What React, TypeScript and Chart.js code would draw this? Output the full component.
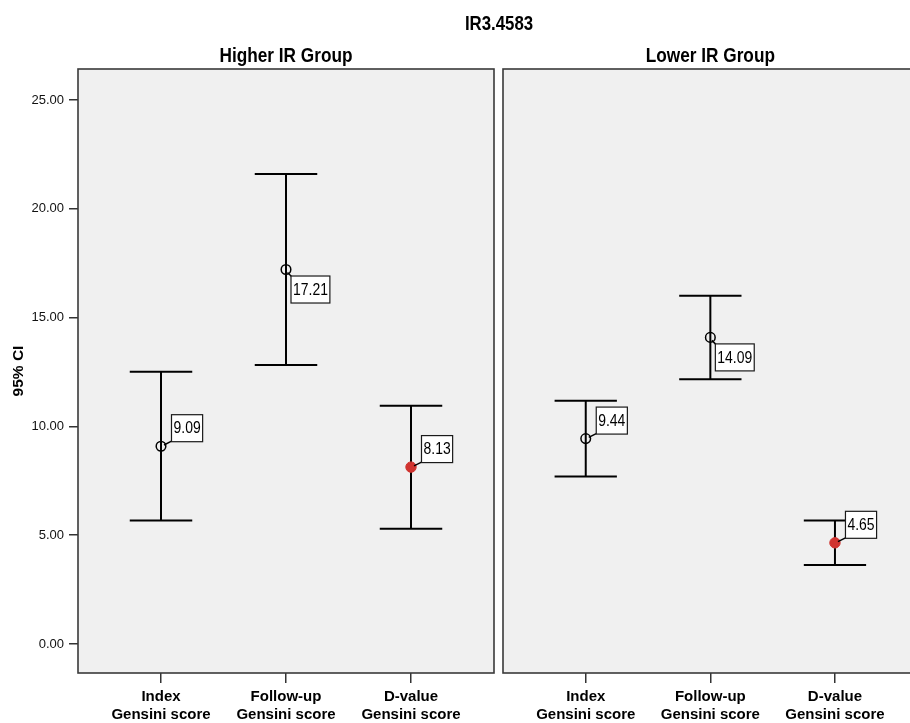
import React, { useEffect, useRef } from 'react';
import { Chart, registerables } from 'chart.js';

Chart.register(...registerables);

// ---- data ----
const mainTitle = 'IR3.4583';
const panelTitles = ['Higher IR Group', 'Lower IR Group'];
const yTitle = '95% CI';
const categories = ['Index', 'Follow-up', 'D-value'];
const measureName = 'Gensini score';
const yTicks = [0, 5, 10, 15, 20, 25];

const higherMean = [9.09, 17.21, 8.13];
const higherLow = [5.67, 12.82, 5.3];
const higherHigh = [12.51, 21.6, 10.95];

const lowerMean = [9.44, 14.09, 4.65];
const lowerLow = [7.7, 12.17, 3.63];
const lowerHigh = [11.18, 16.01, 5.67];

const Y_MIN = -1.333;
const Y_MAX = 26.425;
const X_MIN = -0.664;
const X_MAX = 2.664;

function hasFont(name: string): boolean {
  const c = document.createElement('canvas').getContext('2d');
  if (!c) return false;
  const s = 'abcdefghij ABCDEFG 0123456789 Gensini';
  c.font = '40px monospace';
  const a = c.measureText(s).width;
  c.font = `40px "${name}", monospace`;
  const b = c.measureText(s).width;
  return Math.abs(a - b) > 0.5;
}

function buildErrorBars(low: number[], high: number[]) {
  const cap = 0.25;
  const pts: { x: number; y: number | null }[] = [];
  low.forEach((lo, i) => {
    const hi = high[i];
    pts.push({ x: i, y: lo }, { x: i, y: hi }, { x: i, y: null });
    pts.push({ x: i - cap, y: hi }, { x: i + cap, y: hi }, { x: i, y: null });
    pts.push({ x: i - cap, y: lo }, { x: i + cap, y: lo }, { x: i, y: null });
  });
  return pts;
}

export default function App() {
  const ref1 = useRef<HTMLCanvasElement>(null);
  const ref2 = useRef<HTMLCanvasElement>(null);

  useEffect(() => {
    const narrow = hasFont('Liberation Sans Narrow');
    const family = narrow
      ? '"Liberation Sans Narrow", "Liberation Sans", Arial, sans-serif'
      : '"Liberation Sans", Arial, sans-serif';
    const sx = narrow ? 1 : 0.82;
    const xTickSize = narrow ? 16.5 : 15;
    const yTickSize = narrow ? 14.5 : 13;

    const drawText = (
      ctx: CanvasRenderingContext2D,
      text: string,
      x: number,
      y: number,
      size: number,
      bold: boolean,
      align: CanvasTextAlign,
      baseline: CanvasTextBaseline
    ) => {
      ctx.save();
      ctx.font = `${bold ? 'bold ' : ''}${size}px ${family}`;
      ctx.textAlign = align;
      ctx.textBaseline = baseline;
      ctx.fillStyle = '#000';
      ctx.translate(x, y);
      ctx.scale(sx, 1);
      ctx.fillText(text, 0, 0);
      ctx.restore();
    };
    const textWidth = (ctx: CanvasRenderingContext2D, text: string, size: number, bold: boolean) => {
      ctx.save();
      ctx.font = `${bold ? 'bold ' : ''}${size}px ${family}`;
      const w = ctx.measureText(text).width * sx;
      ctx.restore();
      return w;
    };

    const makeConfig = (
      idx: number,
      mean: number[],
      low: number[],
      high: number[],
      padding: { left: number; right: number; top: number; bottom: number }
    ): any => {
      const plugin = {
        id: 'panelDeco' + idx,
        beforeDraw(chart: any) {
          const { ctx, chartArea: a } = chart;
          ctx.save();
          ctx.fillStyle = '#F0F0F0';
          ctx.fillRect(a.left, a.top, a.right - a.left, a.bottom - a.top);
          ctx.restore();
        },
        afterDatasetsDraw(chart: any) {
          const { ctx } = chart;
          const meta = chart.getDatasetMeta(0);
          meta.data.forEach((pt: any, i: number) => {
            const px = pt.x;
            const py = pt.y;
            const txt = mean[i].toFixed(2);
            const tw = textWidth(ctx, txt, 17, false);
            const bw = tw + 4;
            const bh = 27;
            let bx: number, by: number, l1x: number, l1y: number, l2x: number, l2y: number;
            if (i === 1) {
              bx = px + 5;
              by = py + 6.5;
              l1x = px + 1.5;
              l1y = py + 3;
              l2x = bx + 0.5;
              l2y = by + 0.5;
            } else {
              bx = px + 10.5;
              by = py - 4.5 - bh;
              l1x = px + 3;
              l1y = py - 1.2;
              l2x = bx;
              l2y = by + bh - 0.5;
            }
            ctx.save();
            ctx.strokeStyle = '#000';
            ctx.lineWidth = 1.5;
            ctx.beginPath();
            ctx.moveTo(l1x, l1y);
            ctx.lineTo(l2x, l2y);
            ctx.stroke();
            ctx.fillStyle = '#fff';
            ctx.fillRect(bx, by, bw, bh);
            ctx.strokeStyle = '#1a1a1a';
            ctx.lineWidth = 1.2;
            ctx.strokeRect(bx, by, bw, bh);
            ctx.restore();
            drawText(ctx, txt, bx + bw / 2, by + bh / 2 + 0.5, 17, false, 'center', 'middle');
          });
        },
        afterDraw(chart: any) {
          const { ctx, chartArea: a } = chart;
          ctx.save();
          ctx.strokeStyle = '#3a3a3a';
          ctx.lineWidth = 1.6;
          ctx.strokeRect(a.left, a.top, a.right - a.left, a.bottom - a.top);
          ctx.restore();
          drawText(ctx, panelTitles[idx], (a.left + a.right) / 2, 61.5, 21, true, 'center', 'alphabetic');
          if (idx === 0) {
            drawText(ctx, mainTitle, 499, 30, 20.5, true, 'center', 'alphabetic');
          }
        },
      };

      return {
        type: 'scatter',
        data: {
          datasets: [
            {
              label: 'mean',
              data: mean.map((m, i) => ({ x: i, y: m })),
              showLine: false,
              pointRadius: [4.8, 4.8, 5.2],
              pointBackgroundColor: ['rgba(0,0,0,0)', 'rgba(0,0,0,0)', '#D0332F'],
              pointBorderColor: ['#000', '#000', '#D0332F'],
              pointBorderWidth: [1.5, 1.5, 1],
            },
            {
              label: 'ci',
              data: buildErrorBars(low, high),
              showLine: true,
              spanGaps: false,
              borderColor: '#000',
              borderWidth: 2,
              pointRadius: 0,
              pointHoverRadius: 0,
            },
          ],
        },
        options: {
          responsive: false,
          animation: false,
          events: [],
          layout: { padding },
          plugins: { legend: { display: false }, tooltip: { enabled: false }, title: { display: false } },
          scales: {
            x: {
              type: 'linear',
              min: X_MIN,
              max: X_MAX,
              afterBuildTicks: (scale: any) => {
                scale.ticks = categories.map((_, i) => ({ value: i }));
              },
              afterFit: (scale: any) => {
                scale.height = 50;
              },
              grid: {
                display: true,
                drawOnChartArea: false,
                drawTicks: true,
                tickLength: 10,
                color: '#333',
                lineWidth: 1.5,
              },
              border: { display: false },
              ticks: {
                autoSkip: false,
                maxRotation: 0,
                padding: 5,
                color: '#000',
                font: { family, size: xTickSize, weight: 'bold', lineHeight: 18.2 / xTickSize },
                callback: (_v: any, i: number) => [categories[i], measureName],
              },
            },
            y: {
              type: 'linear',
              display: idx === 0,
              min: Y_MIN,
              max: Y_MAX,
              afterBuildTicks: (scale: any) => {
                scale.ticks = yTicks.map((v) => ({ value: v }));
              },
              afterFit: (scale: any) => {
                scale.width = idx === 0 ? 78 : 0;
              },
              grid: {
                display: true,
                drawOnChartArea: false,
                drawTicks: true,
                tickLength: 9,
                color: '#333',
                lineWidth: 1.5,
              },
              border: { display: false },
              ticks: {
                padding: 5,
                color: '#111',
                font: { family, size: yTickSize },
                callback: (v: any) => Number(v).toFixed(2),
              },
              title: {
                display: true,
                text: yTitle,
                color: '#000',
                font: { family: '"Liberation Sans", Arial, sans-serif', size: 15.5, weight: 'bold' },
                padding: { top: 19 - (15.5 * 1.2) / 2, bottom: 0 },
              },
            },
          },
        },
        plugins: [plugin],
      };
    };

    const c1 = new Chart(
      ref1.current as HTMLCanvasElement,
      makeConfig(0, higherMean, higherLow, higherHigh, { left: 0, right: 910 - 494, top: 69, bottom: 0 })
    );
    const c2 = new Chart(
      ref2.current as HTMLCanvasElement,
      makeConfig(1, lowerMean, lowerLow, lowerHigh, { left: 503, right: 4, top: 69, bottom: 0 })
    );
    return () => {
      c1.destroy();
      c2.destroy();
    };
  }, []);

  return (
    <div
      style={{
        position: 'absolute',
        left: 0,
        top: 0,
        width: 910,
        height: 723,
        overflow: 'hidden',
        background: '#fff',
      }}
    >
      <canvas ref={ref1} width={910} height={723} style={{ position: 'absolute', left: 0, top: 0 }} />
      <canvas ref={ref2} width={924} height={723} style={{ position: 'absolute', left: 0, top: 0 }} />
    </div>
  );
}
